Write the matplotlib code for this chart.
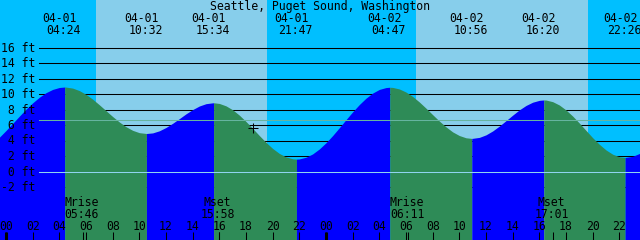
import matplotlib
matplotlib.use("Agg")
import matplotlib.pyplot as plt
import matplotlib.transforms as mtransforms

title = "Seattle, Puget Sound, Washington"

# tide curve: hours since 04-01 00:00 and height in ft
tide_hours = [-0.5, 0.0, 0.5, 1.0, 1.5, 2.0, 2.5, 3.0, 3.5, 4.0, 4.4,
              4.5, 5.0, 5.5, 6.0, 6.5, 7.0, 7.5, 8.0, 8.5, 9.0, 9.5, 10.0, 10.5, 10.533,
              11.0, 11.5, 12.0, 12.5, 13.0, 13.5, 14.0, 14.5, 15.0, 15.5, 15.567,
              16.0, 16.5, 17.0, 17.5, 18.0, 18.5, 19.0, 19.5, 20.0, 20.5, 21.0, 21.5, 21.783,
              22.0, 22.5, 23.0, 23.5, 24.0, 24.5, 25.0, 25.5, 26.0, 26.5, 27.0, 27.5, 28.0, 28.5, 28.783,
              29.0, 29.5, 30.0, 30.5, 31.0, 31.5, 32.0, 32.5, 33.0, 33.5, 34.0, 34.5, 34.933,
              35.0, 35.5, 36.0, 36.5, 37.0, 37.5, 38.0, 38.5, 39.0, 39.5, 40.0, 40.333,
              40.5, 41.0, 41.5, 42.0, 42.5, 43.0, 43.5, 44.0, 44.5, 45.0, 45.5, 46.0, 46.433,
              46.5, 47.0, 47.5, 48.0]
tide_ft = [4.42, 5.29, 6.21, 7.14, 8.04, 8.86, 9.58, 10.17, 10.59, 10.84, 10.90,
           10.89, 10.76, 10.44, 9.95, 9.33, 8.61, 7.85, 7.09, 6.39, 5.78, 5.31, 5.01, 4.91, 4.90,
           4.98, 5.25, 5.68, 6.22, 6.82, 7.44, 7.99, 8.45, 8.75, 8.86, 8.87,
           8.78, 8.47, 7.96, 7.27, 6.45, 5.56, 4.64, 3.76, 2.97, 2.33, 1.88, 1.64, 1.60,
           1.62, 1.84, 2.27, 2.91, 3.71, 4.64, 5.65, 6.69, 7.70, 8.64, 9.46, 10.12, 10.59, 10.83, 10.87,
           10.85, 10.65, 10.25, 9.68, 8.97, 8.17, 7.33, 6.51, 5.76, 5.11, 4.64, 4.35, 4.27,
           4.28, 4.40, 4.73, 5.23, 5.86, 6.56, 7.27, 7.95, 8.52, 8.94, 9.18, 9.23,
           9.22, 9.01, 8.58, 7.94, 7.15, 6.25, 5.30, 4.36, 3.51, 2.78, 2.23, 1.90, 1.81,
           1.82, 1.96, 2.32, 2.89]

event_hours = [4.40, 10.533, 15.567, 21.783, 28.783, 34.933, 40.333, 46.433]
event_dates = ["04-01", "04-01", "04-01", "04-01", "04-02", "04-02", "04-02", "04-02"]
event_times = ["04:24", "10:32", "15:34", "21:47", "04:47", "10:56", "16:20", "22:26"]

moon_hours = [5.767, 15.967, 30.183, 41.017]
moon_names = ["Mrise", "Mset", "Mrise", "Mset"]
moon_times = ["05:46", "15:58", "06:11", "17:01"]

day_start = [6.75, 30.75]
day_end = [19.6, 43.62]

grid_ft = [16, 14, 12, 10, 8, 6, 4, 2, 0, -2]
grid_labels = ["16 ft", "14 ft", "12 ft", "10 ft", " 8 ft", " 6 ft", " 4 ft", " 2 ft", " 0 ft", "-2 ft"]
msl_ft = 6.6
datum_ft = 0.0

hour_ticks = list(range(0, 50, 2))
hour_labels = ["%02d" % (h % 24) for h in hour_ticks]
midnight_hours = [0, 24, 48]

now_hour = 18.55
now_ft = 5.6

# colours
NIGHT = "#00BFFF"
DAY = "#87CEEB"
RISE = "#0000FF"
FALL = "#2E8B57"
MSL_C = "#66B4A0"
DATUM_C = "#90D4F0"

W, H = 640, 240
fig = plt.figure(figsize=(W / 100, H / 100), dpi=100)
fig.patch.set_facecolor(NIGHT)
ax = fig.add_axes([0, 0, 1, 1])
ax.set_xlim(-0.45, 47.55)
ax.set_ylim(-68.5 / 7.75, 171.5 / 7.75)
ax.axis("off")

def px(dx, dy):
    return mtransforms.ScaledTranslation(dx / 100, dy / 100, fig.dpi_scale_trans)

FONT = dict(family="DejaVu Sans Mono", fontsize=8.3, color="black")

for s, e in zip(day_start, day_end):
    ax.axvspan(s, e, color=DAY, lw=0, zorder=0)

for v in grid_ft:
    ax.axhline(v, xmin=39 / W, xmax=1, color="black", lw=0.75, zorder=1)

# tide fill split at extremes
ybot = -20
ext = [0]
for i in range(1, len(tide_ft) - 1):
    if (tide_ft[i] - tide_ft[i - 1]) * (tide_ft[i + 1] - tide_ft[i]) < 0:
        ext.append(i)
ext.append(len(tide_ft) - 1)
for a, b in zip(ext[:-1], ext[1:]):
    xs = tide_hours[a:b + 1]
    ys = tide_ft[a:b + 1]
    col = RISE if ys[-1] > ys[0] else FALL
    ax.fill_between(xs, ybot, ys, color=col, lw=0, zorder=2)

ax.axhline(msl_ft, xmin=39 / W, xmax=1, color=MSL_C, lw=0.75, zorder=3)
ax.axhline(datum_ft, xmin=39 / W, xmax=1, color=DATUM_C, lw=0.75, zorder=3)

ax.plot([now_hour], [now_ft], marker="+", ms=6.5, mew=0.75, color="black", zorder=4)

# y labels
ylab_tr = ax.get_yaxis_transform() + px(0, -4)
for v, lab in zip(grid_ft, grid_labels):
    ax.text(35 / W, v, lab, ha="right", va="baseline", transform=ylab_tr, zorder=5, **FONT)

# title
ax.text(0.5, 1 - 10 / H, title, ha="center", va="baseline", transform=ax.transAxes, zorder=5, **FONT)

# tide event labels
xt = ax.get_xaxis_transform()
for hr, d, t in zip(event_hours, event_dates, event_times):
    ax.text(hr, 1 - 21.7 / H, d, ha="center", va="baseline", transform=xt + px(-5, 0), zorder=5, **FONT)
    ax.text(hr, 1 - 34.3 / H, t, ha="center", va="baseline", transform=xt + px(-1, 0), zorder=5, **FONT)

# moon labels
for hr, n, t in zip(moon_hours, moon_names, moon_times):
    ax.text(hr, 1 - 206 / H, n, ha="center", va="baseline", transform=xt + px(-1.5, 0), zorder=5, **FONT)
    ax.text(hr, 1 - 217.7 / H, t, ha="center", va="baseline", transform=xt + px(-1.5, 0), zorder=5, **FONT)

# hour labels and ticks
for hr, lab in zip(hour_ticks, hour_labels):
    ax.text(hr, 1 - 229.5 / H, lab, ha="center", va="baseline", transform=xt, zorder=5, **FONT)
ax.vlines(hour_ticks, 0, 8 / H, transform=xt, color="black", lw=0.75, zorder=5)
ax.vlines(midnight_hours, 0, 8 / H, transform=xt, color="black", lw=2.2, zorder=5)
ax.vlines(moon_hours, 0, 8 / H, transform=xt, color="black", lw=0.75, zorder=5)

fig.savefig("out.png", dpi=100, facecolor=NIGHT)
